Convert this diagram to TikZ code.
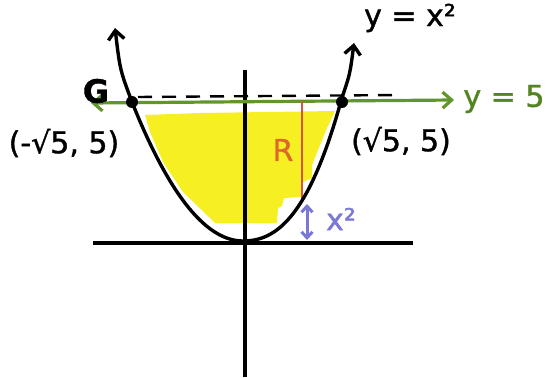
\documentclass[tikz,border=0pt]{standalone}
\usepackage{fontspec}
\setmainfont{DejaVu Sans}[FakeBold=1.2]
\usetikzlibrary{arrows.meta}
\definecolor{hgreen}{RGB}{96,150,44}
\definecolor{hgreentext}{RGB}{82,132,32}
\definecolor{hyellow}{RGB}{246,240,34}
\definecolor{horange}{RGB}{222,104,44}
\definecolor{hred}{RGB}{212,84,70}
\definecolor{hpurple}{RGB}{122,120,214}
\tikzset{
  hbarb/.tip={Straight Barb[length=9pt,width=16pt]},
  sbarb/.tip={Straight Barb[length=6pt,width=11pt]},
  axisline/.style={line width=3.2pt, black},
  curveline/.style={line width=3.4pt, black},
  dotnode/.style={circle, fill=black, inner sep=0pt, minimum size=12pt},
  lbl/.style={font=\fontsize{30}{32}\selectfont, inner sep=0pt},
}
\begin{document}
\begin{tikzpicture}[x=1pt,y=-1pt]
\useasboundingbox (0,0) rectangle (548,377);
% yellow region
\fill[hyellow] (145,115) -- (200,113) -- (335,111) -- (327,128) -- (318,150)
  -- (312,165) -- (312,178) -- (303,182) -- (302,197) -- (284,198) -- (282,206)
  -- (278,208) -- (277,223) -- (215,223) -- (183,192) -- (163,162) -- (150,132) -- cycle;
% axes
\coordinate (xl) at (93,243);
\coordinate (xr) at (413,243);
\coordinate (yt) at (245,70);
\coordinate (yb) at (245,377);
\draw[axisline] (xl) -- (xr);
\draw[axisline] (yt) -- (yb);
% dashed axis of rotation
\coordinate (dl) at (138,97);
\coordinate (dr) at (400,95);
\draw[line width=2.4pt, dash pattern=on 14pt off 10pt] (dl) -- (dr);
% green line y=5
\coordinate (gl) at (91,103);
\coordinate (gr) at (454,100);
\draw[hgreen, line width=3.2pt, hbarb-hbarb] (gl) -- (gr);
% red radius
\coordinate (rt) at (302,101);
\coordinate (rb) at (302,200);
\draw[hred, line width=1.8pt] (rt) -- (rb);
% purple x^2 arrow
\coordinate (pt) at (307,204);
\coordinate (pb) at (307,240);
\draw[hpurple, line width=3pt, sbarb-sbarb] (pt) -- (pb);
% parabola
\draw[curveline, hbarb-hbarb] (115,28) .. controls (120,70) .. (132,102)
  -- plot[domain=111:0, samples=40] ({243-\x}, {241-0.01128*\x*\x})
  -- plot[domain=0:99, samples=40] ({243+\x}, {241-0.00709*\x*\x-0.0000716*\x*\x*\x})
  .. controls (350,74) .. (354,43);
% intersection points
\node[dotnode] (pL) at (132,102) {};
\node[dotnode] (pR) at (342,102) {};
% labels
\node[lbl, anchor=center] (tL) at (64,143) {(-√5, 5)};
\node[lbl, anchor=center] (tR) at (401,141) {(√5, 5)};
\node[lbl, anchor=center] (tP) at (410,18) {y = x²};
\node[lbl, anchor=center, text=hgreentext] (tG) at (504,99) {y = 5};
\node[lbl, anchor=center, text=horange] (tRR) at (283,150) {R};
\node[lbl, anchor=center, text=hpurple] (tX) at (341,219) {x²};
\node[font=\fontsize{32}{32}\bfseries, inner sep=0pt] (rot) at (96,91) {G};
\end{tikzpicture}
\end{document}
